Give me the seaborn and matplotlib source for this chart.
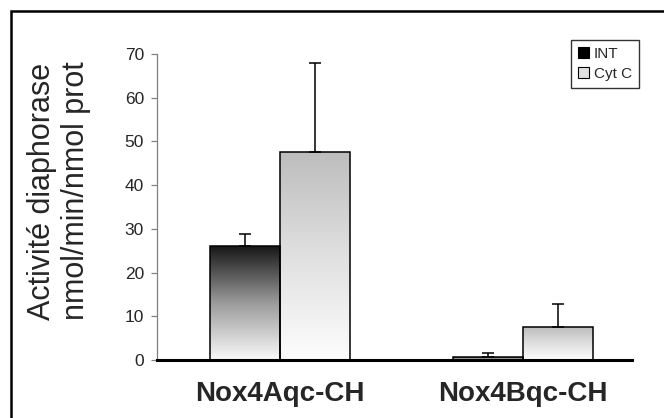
import numpy as np
import pandas as pd
import matplotlib
matplotlib.use("Agg")
import matplotlib.pyplot as plt
from matplotlib.patches import Patch, Rectangle
from matplotlib.colors import LinearSegmentedColormap
import seaborn as sns

# data
constructs = ["Nox4Aqc-CH", "Nox4Bqc-CH"]
substrates = ["INT", "Cyt C"]
int_values = [26.1, 0.6]
int_errors = [2.7, 1.1]
cytc_values = [47.6, 7.5]
cytc_errors = [20.3, 5.3]

sns.set_style("white")
plt.rcParams["font.family"] = ["Liberation Sans", "DejaVu Sans"]

df = pd.DataFrame({
    "construct": constructs * 2,
    "substrate": [substrates[0]] * 2 + [substrates[1]] * 2,
    "value": int_values + cytc_values,
})
errors = {"INT": int_errors, "Cyt C": cytc_errors}

fig = plt.figure(figsize=(6.64, 4.18), dpi=100)
ax = fig.add_axes([157 / 664, 1 - 360 / 418, (632 - 157) / 664, (360 - 54) / 418])

sns.barplot(
    data=df, x="construct", y="value", hue="substrate",
    order=constructs, hue_order=substrates,
    palette=["black", "#d0d0d0"], width=0.576, gap=0,
    errorbar=None, edgecolor="black", linewidth=1.1,
    legend=False, ax=ax,
)

# gradient fills (dark at top, white at bottom)
gradients = {
    "INT": LinearSegmentedColormap.from_list("g_int", ["#fafafa", "#9a9a9a", "#151515"]),
    "Cyt C": LinearSegmentedColormap.from_list("g_cyt", ["#fdfdfd", "#e0e0e0", "#bdbdbd"]),
}
grad = np.linspace(0, 1, 256).reshape(-1, 1)

for sub, container in zip(substrates, ax.containers):
    for patch, err in zip(container.patches, errors[sub]):
        x0, y0 = patch.get_x(), patch.get_y()
        w, h = patch.get_width(), patch.get_height()
        img = ax.imshow(grad, cmap=gradients[sub], origin="lower", aspect="auto",
                        extent=[x0, x0 + w, y0, y0 + h], zorder=1.5)
        img.set_clip_path(patch)
        patch.set_facecolor("none")
        patch.set_zorder(2)
        ax.errorbar(x0 + w / 2, y0 + h, yerr=[[0], [err]], fmt="none",
                    ecolor="black", elinewidth=1.1, capsize=4.3, capthick=1.1,
                    zorder=3)

ax.set_xlim(-0.506, 1.449)
ax.set_ylim(0, 70)
ax.set_yticks(range(0, 71, 10))
ax.set_xlabel("")
ax.set_ylabel("")

# axes styling
for s in ["top", "right"]:
    ax.spines[s].set_visible(False)
ax.spines["left"].set_color("#808080")
ax.spines["left"].set_linewidth(0.9)
ax.spines["bottom"].set_color("black")
ax.spines["bottom"].set_linewidth(2.2)
ax.tick_params(axis="y", left=True, length=4.3, width=0.9, color="#808080",
               labelsize=12.5, pad=5)
ax.tick_params(axis="x", bottom=False, length=0, labelsize=20, pad=15)
for lab in ax.get_xticklabels():
    lab.set_fontweight("bold")

fig.text(59 / 664, 1 - 191 / 418, "Activité diaphorase\nnmol/min/nmol prot",
         rotation=90, ha="center", va="center", fontsize=22, linespacing=1.2)

# legend
handles = [
    Patch(facecolor="black", edgecolor="black", linewidth=0.8),
    Patch(facecolor="#e2e2e2", edgecolor="black", linewidth=0.8),
]
leg = ax.legend(handles, substrates, loc="upper right",
                bbox_to_anchor=(639 / 664, 1 - 40 / 418),
                bbox_transform=fig.transFigure, borderaxespad=0,
                fontsize=11, frameon=True, fancybox=False,
                handlelength=0.75, handleheight=0.75, handletextpad=0.3,
                labelspacing=0.4, borderpad=0.45)
leg.get_frame().set_edgecolor("black")
leg.get_frame().set_linewidth(1.0)

# outer frame (cut off at right and bottom)
fig.patches.append(Rectangle((11 / 664, -0.1), 1.0, 1.1 - 11 / 418,
                             transform=fig.transFigure, fill=False,
                             edgecolor="black", linewidth=1.8))

fig.savefig("out.png", dpi=100)
